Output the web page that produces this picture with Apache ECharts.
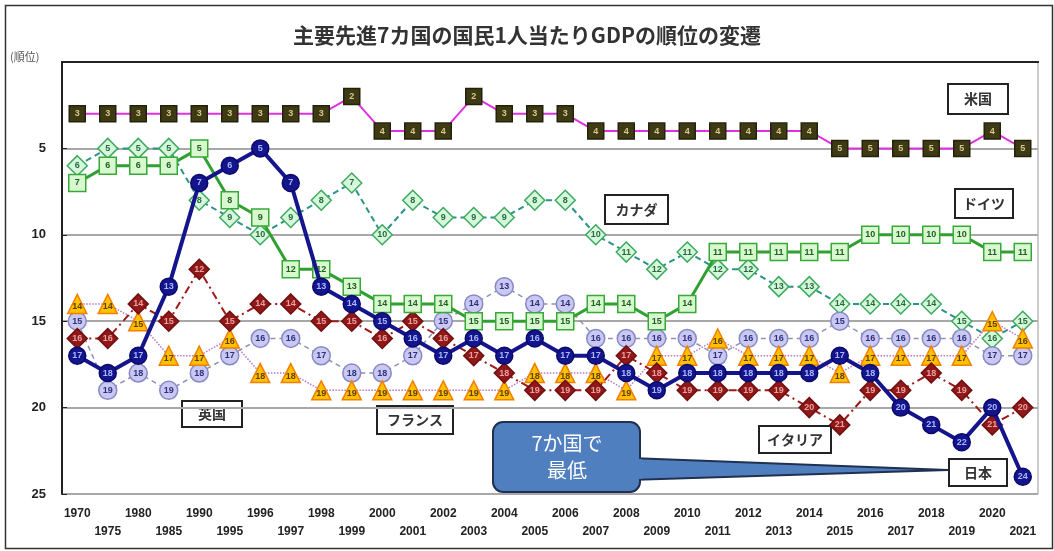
<!DOCTYPE html>
<html lang="ja">
<head>
    <meta charset="UTF-8">
    <title>主要先進7カ国の国民1人当たりGDPの順位の変遷</title>
    <script src="https://cdn.jsdelivr.net/npm/echarts@6/dist/echarts.min.js"></script>
    <style>
        html, body { margin: 0; padding: 0; background: #fff; }
        #main { width: 1054px; height: 551px; }
    </style>
</head>
<body>
<div id="main"></div>
<script>
    // 年次
    const years = ['1970', '1975', '1980', '1985', '1990', '1995', '1996', '1997', '1998', '1999',
        '2000', '2001', '2002', '2003', '2004', '2005', '2006', '2007', '2008', '2009',
        '2010', '2011', '2012', '2013', '2014', '2015', '2016', '2017', '2018', '2019',
        '2020', '2021'];

    // 各国の順位
    const usa = [3, 3, 3, 3, 3, 3, 3, 3, 3, 2, 4, 4, 4, 2, 3, 3, 3, 4, 4, 4, 4, 4, 4, 4, 4, 5, 5, 5, 5, 5, 4, 5];
    const germany = [7, 6, 6, 6, 5, 8, 9, 12, 12, 13, 14, 14, 14, 15, 15, 15, 15, 14, 14, 15, 14, 11, 11, 11, 11, 11, 10, 10, 10, 10, 11, 11];
    const canada = [6, 5, 5, 5, 8, 9, 10, 9, 8, 7, 10, 8, 9, 9, 9, 8, 8, 10, 11, 12, 11, 12, 12, 13, 13, 14, 14, 14, 14, 15, 16, 15];
    const japan = [17, 18, 17, 13, 7, 6, 5, 7, 13, 14, 15, 16, 17, 16, 17, 16, 17, 17, 18, 19, 18, 18, 18, 18, 18, 17, 18, 20, 21, 22, 20, 24];
    const uk = [15, 19, 18, 19, 18, 17, 16, 16, 17, 18, 18, 17, 15, 14, 13, 14, 14, 16, 16, 16, 16, 17, 16, 16, 16, 15, 16, 16, 16, 16, 17, 17];
    const france = [14, 14, 15, 17, 17, 16, 18, 18, 19, 19, 19, 19, 19, 19, 19, 18, 18, 18, 19, 17, 17, 16, 17, 17, 17, 18, 17, 17, 17, 17, 15, 16];
    const italy = [16, 16, 14, 15, 12, 15, 14, 14, 15, 15, 16, 15, 16, 17, 18, 19, 19, 19, 17, 18, 19, 19, 19, 19, 20, 21, 19, 19, 18, 19, 21, 20];

    const rankTicks = [5, 10, 15, 20, 25];

    const jpFont = '"Noto Sans CJK JP", sans-serif';
    const numFont = '"Liberation Sans", Arial, sans-serif';

    let myChart = echarts.init(document.getElementById('main'));

    function rankSeries(name, data, symbol, size, fill, border, textColor, line, z, offset) {
        return {
            name: name,
            type: 'line',
            data: data,
            symbol: symbol,
            symbolSize: size,
            z: z,
            itemStyle: {color: fill, borderColor: border, borderWidth: 1.5},
            lineStyle: line,
            label: {
                show: true,
                position: 'inside',
                offset: offset || [0, 0],
                color: textColor,
                fontSize: 9,
                fontWeight: 'bold',
                fontFamily: numFont
            },
            emphasis: {disabled: true},
            animation: false
        };
    }

    // 凡例代わりの国名ボックス
    function nameBox(text, x, y, w, h) {
        return {
            type: 'group',
            left: x,
            top: y,
            children: [
                {
                    type: 'rect',
                    shape: {x: 0, y: 0, width: w, height: h},
                    style: {fill: '#fff', stroke: '#222', lineWidth: 2}
                },
                {
                    type: 'text',
                    x: w / 2,
                    y: h / 2,
                    style: {
                        text: text,
                        font: 'bold 14px ' + jpFont,
                        fill: '#333',
                        textAlign: 'center',
                        textVerticalAlign: 'middle'
                    }
                }
            ]
        };
    }

    let option = {
        backgroundColor: '#fff',
        title: {
            text: '主要先進7カ国の国民1人当たりGDPの順位の変遷',
            left: 'center',
            top: 20,
            textStyle: {fontFamily: jpFont, fontSize: 21, fontWeight: 'bold', color: '#333'}
        },
        grid: {left: 62, right: 16, top: 62, bottom: 57, show: true, borderColor: '#999', borderWidth: 1},
        xAxis: [
            {
                type: 'category',
                data: years,
                boundaryGap: true,
                axisLine: {lineStyle: {color: '#222', width: 2}},
                axisTick: {show: false},
                axisLabel: {
                    interval: 0,
                    margin: 11,
                    color: '#222',
                    fontSize: 12,
                    fontWeight: 'bold',
                    fontFamily: numFont,
                    lineHeight: 18,
                    formatter: function (v, i) {
                        return i % 2 ? '\n' + v : v + '\n';
                    }
                }
            },
            {
                type: 'category',
                data: years,
                position: 'top',
                axisLine: {lineStyle: {color: '#222', width: 2}},
                axisTick: {show: false},
                axisLabel: {show: false}
            }
        ],
        yAxis: {
            type: 'value',
            inverse: true,
            min: 0,
            max: 25,
            interval: 5,
            axisLine: {show: true, lineStyle: {color: '#222', width: 2}},
            axisTick: {show: true, inside: true, length: 5, lineStyle: {color: '#222'}},
            axisLabel: {
                margin: 16,
                color: '#222',
                fontSize: 13,
                fontWeight: 'bold',
                fontFamily: numFont,
                formatter: function (v) {
                    return rankTicks.indexOf(v) >= 0 ? String(v) : '';
                }
            },
            splitLine: {show: true, lineStyle: {color: '#a8a8a8', width: 2}}
        },
        series: [
            rankSeries('米国', usa, 'rect', 16, '#3d3a14', '#24220a', '#d8c890',
                {color: '#e030e0', width: 2}, 3),
            rankSeries('カナダ', canada, 'diamond', 20, '#d4f8dc', '#40a860', '#2a6a3a',
                {color: '#2a9488', width: 2, type: [6, 4]}, 4),
            rankSeries('英国', uk, 'circle', 18, '#c8c8f0', '#8888c8', '#303080',
                {color: '#9090b4', width: 1.5, type: [5, 4]}, 5),
            rankSeries('フランス', france, 'triangle', 19, '#ffc000', '#f08000', '#604000',
                {color: '#b878c8', width: 1.5, type: 'dotted'}, 6, [0, 3]),
            rankSeries('イタリア', italy, 'diamond', 20, '#901818', '#701010', '#e8a0a0',
                {color: '#a01818', width: 2, type: [8, 4, 2, 4]}, 7),
            rankSeries('ドイツ', germany, 'rect', 17, '#d8f8d0', '#38a838', '#206020',
                {color: '#30a030', width: 3}, 8),
            rankSeries('日本', japan, 'circle', 17, '#14148c', '#0a0a6a', '#a8b8ff',
                {color: '#14148c', width: 4}, 9)
        ],
        graphic: [
            {
                type: 'rect',
                left: 3, top: 3,
                shape: {x: 0, y: 0, width: 1047, height: 543},
                style: {fill: 'none', stroke: '#333', lineWidth: 1.5},
                silent: true
            },
            {
                type: 'text',
                left: 10, top: 51,
                style: {text: '(順位)', font: '11px ' + jpFont, fill: '#555'}
            },
            nameBox('米国', 947, 83, 60, 30),
            nameBox('ドイツ', 954, 188, 58, 29),
            nameBox('カナダ', 604, 194, 63, 29),
            nameBox('英国', 181, 400, 60, 26),
            nameBox('フランス', 376, 405, 76, 28),
            nameBox('イタリア', 758, 425, 72, 27),
            nameBox('日本', 948, 458, 58, 27),
            {
                type: 'polygon',
                shape: {points: [[630, 458], [948, 470], [630, 480]]},
                style: {fill: '#4f7fbf', stroke: '#1f3050', lineWidth: 2},
                z: 100
            },
            {
                type: 'rect',
                shape: {x: 493, y: 422, width: 147, height: 70, r: 10},
                style: {fill: '#4f7fbf', stroke: '#1f3050', lineWidth: 2},
                z: 101
            },
            {
                type: 'rect',
                shape: {x: 636, y: 459, width: 6, height: 20},
                style: {fill: '#4f7fbf'},
                z: 102
            },
            {
                type: 'text',
                x: 567, y: 457,
                style: {
                    text: '7か国で\n最低',
                    font: '20px ' + jpFont,
                    fill: '#fff',
                    textAlign: 'center',
                    textVerticalAlign: 'middle',
                    lineHeight: 27
                },
                z: 103
            }
        ]
    };

    myChart.setOption(option);
</script>
</body>
</html>
